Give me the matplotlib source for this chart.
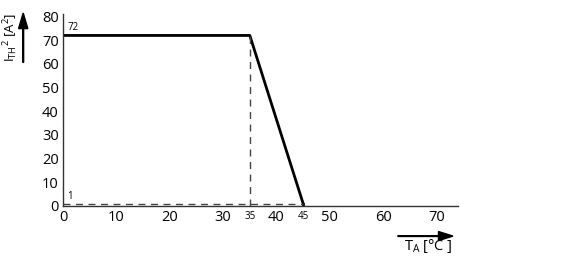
import matplotlib.pyplot as plt
from matplotlib.patches import FancyArrow

plt.rcParams['font.family'] = ['Open Sans', 'DejaVu Sans']

# derating curve
temp = [0, 35, 45]
ith2 = [72, 72, 1]

ref_level = 1
knee_temp = 35
end_temp = 45

x_ticks = [0, 10, 20, 30, 40, 50, 60, 70]
y_ticks = [0, 10, 20, 30, 40, 50, 60, 70, 80]

fig = plt.figure(figsize=(5.8, 2.6), dpi=100)
ax = fig.add_axes([0.1086, 0.2077, 0.681, 0.738])

ax.plot(temp, ith2, color='black', linewidth=2.0, solid_capstyle='butt')
ax.plot([temp[-1], temp[-1]], [ith2[-1], 0], color='black', linewidth=2.0)
ax.plot([0, end_temp], [ref_level, ref_level], color='#444444', linewidth=1, linestyle=(0, (5, 4)))
ax.plot([knee_temp, knee_temp], [0, ith2[1]], color='#444444', linewidth=1, linestyle=(0, (5, 4)))

ax.set_xlim(0, 74)
ax.set_ylim(0, 81)
ax.set_xticks(x_ticks)
ax.set_yticks(y_ticks)
ax.tick_params(length=0, labelsize=10.5, pad=3)
for s in ['top', 'right']:
    ax.spines[s].set_visible(False)
for s in ['left', 'bottom']:
    ax.spines[s].set_color('#333333')
    ax.spines[s].set_linewidth(1)

ax.text(0.8, 73, '72', fontsize=7, va='bottom', ha='left')
ax.text(0.8, 1.8, '1', fontsize=7, va='bottom', ha='left')
ax.text(knee_temp, -2, '35', fontsize=7, va='top', ha='center')
ax.text(end_temp, -2, '45', fontsize=7, va='top', ha='center')

# axis titles with arrows
fig.text(0.018, 0.855, r'I$_{\mathregular{TH}}$$^{\mathregular{2}}$ [A$^{\mathregular{2}}$]',
         rotation=90, fontsize=9.5, ha='center', va='center')
fig.patches.append(FancyArrow(
    0.04, 0.76, 0, 0.19, width=0.0015, head_width=0.016, head_length=0.06,
    color='black', transform=fig.transFigure, length_includes_head=True))

fig.text(0.781, 0.02, r'T$_{\mathregular{A}}$ [°C ]', fontsize=10.5, ha='right', va='bottom')
fig.patches.append(FancyArrow(
    0.686, 0.092, 0.095, 0, width=0.003, head_width=0.035, head_length=0.025,
    color='black', transform=fig.transFigure, length_includes_head=True))

fig.savefig('out.png', dpi=100)
